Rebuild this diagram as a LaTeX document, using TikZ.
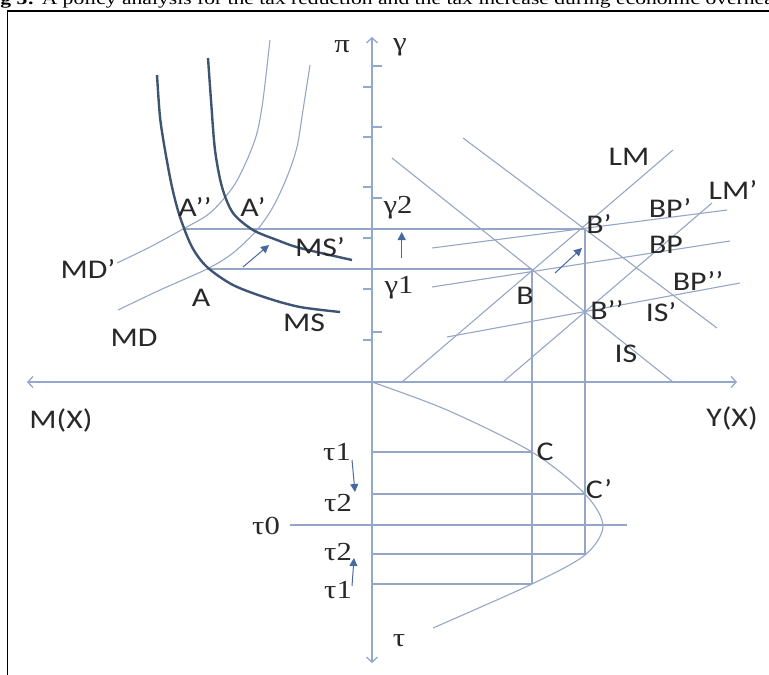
\documentclass[tikz,border=0pt]{standalone}
\usepackage{fontspec}
\setmainfont{Liberation Serif}
\newfontfamily\labfont{Carlito}
\newfontfamily\grkfont{Liberation Serif}
\usetikzlibrary{arrows.meta}
\definecolor{axiscol}{RGB}{146,168,204}
\definecolor{linecol}{RGB}{150,166,198}
\definecolor{thickcol}{RGB}{62,84,115}
\definecolor{arrcol}{RGB}{72,104,160}
\definecolor{txtcol}{RGB}{40,40,40}
\newcommand\hs[1]{\scalebox{1.18}[1]{#1}}
\newcommand\hc[1]{\scalebox{1.27}[1]{#1}}
\begin{document}
\begin{tikzpicture}[x=1pt,y=-1pt,
  axisline/.style={draw=axiscol, line width=1.3pt},
  axisarrow/.style={axisline, {Straight Barb[length=5pt,width=11pt]}-{Straight Barb[length=5pt,width=11pt]}},
  thinline/.style={draw=linecol, line width=1.1pt},
  thickcurve/.style={draw=thickcol, line width=2.4pt},
  shiftarrow/.style={draw=arrcol, line width=1pt, -{Triangle[length=8pt,width=8pt]}},
  lab/.style={font=\labfont\fontsize{27}{31}\selectfont, text=txtcol, inner sep=0pt},
  glab/.style={font=\grkfont\fontsize{26}{30}\selectfont, text=txtcol, inner sep=0pt},
]
\useasboundingbox (0,0) rectangle (769,675);
\clip (0,0) rectangle (769,675);

% caption (cut at top)
\node[anchor=base west, inner sep=0pt, font=\fontsize{17}{19}\selectfont] (cap) at (-19,4)
  {\hc{\textbf{Fig 3:} A policy analysis for the tax reduction and the tax increase during economic overheating}};
% frame
\draw[line width=1.6pt] (7.5,11) rectangle (800,700);

% key points
\coordinate (O) at (372,382);
\coordinate (Ytop) at (372,37);
\coordinate (Ybot) at (372,663);
\coordinate (Xl) at (27,382);
\coordinate (Xr) at (737,382);
\coordinate (A) at (207,269);
\coordinate (App) at (183,229);
\coordinate (Ap) at (255,229);
\coordinate (B) at (532,269);
\coordinate (Bp) at (585,229);
\coordinate (Bpp) at (585,311);
\coordinate (C) at (532,452);
\coordinate (Cp) at (585,494);

% axes
\draw[axisarrow] (Ytop) -- (Ybot);
\draw[axisarrow] (Xl) -- (Xr);
\foreach \ty in {87,137,187,238,289,340} \draw[axisline] (363,\ty) -- (372,\ty);
\foreach \ty in {66,127,198,332} \draw[axisline] (372,\ty) -- (382,\ty);

% MD curves
\draw[thinline] plot[smooth] coordinates {(118,310) (160,290) (207,269) (233,253) (257,230) (273,207) (287,177) (297,147) (303,110) (310,65)};
\draw[thinline] plot[smooth] coordinates {(117,263) (150,247) (183,229) (210,213) (233,187) (247,160) (257,133) (263,100) (270,40)};

% horizontal guide lines
\draw[thinline] (App) -- (Bp);
\draw[thinline] (A) -- (B);

% MS curves
\draw[thickcurve] plot[smooth] coordinates {(157,75) (160,117) (165,150) (172,187) (180,217) (192,247) (207,267) (233,285) (267,298) (300,307) (340,312)};
\draw[thickcurve] plot[smooth] coordinates {(208,58) (211,100) (215,150) (222,187) (233,213) (253,230) (277,240) (300,248) (352,260)};

% IS, LM, BP lines
\coordinate (ISa) at (392,158); \coordinate (ISb) at (673,382);
\coordinate (ISpa) at (463,138); \coordinate (ISpb) at (717,328);
\coordinate (LMa) at (402,382); \coordinate (LMb) at (673,150);
\coordinate (LMpa) at (503,382); \coordinate (LMpb) at (712,203);
\coordinate (BPpa) at (432,248); \coordinate (BPpb) at (727,210);
\coordinate (BPa) at (432,287); \coordinate (BPb) at (730,241);
\coordinate (BPppa) at (447,337); \coordinate (BPppb) at (740,283);
\draw[thinline] (ISa) -- (ISb);
\draw[thinline] (ISpa) -- (ISpb);
\draw[thinline] (LMa) -- (LMb);
\draw[thinline] (LMpa) -- (LMpb);
\draw[thinline] (BPpa) -- (BPpb);
\draw[thinline] (BPa) -- (BPb);
\draw[thinline] (BPppa) -- (BPppb);

% lower quadrant
\coordinate (t1u) at (372,452);
\coordinate (t2u) at (372,494);
\coordinate (t0a) at (290,525); \coordinate (t0b) at (627,525);
\coordinate (t2l) at (372,554); \coordinate (t2lr) at (585,554);
\coordinate (t1l) at (372,584); \coordinate (t1lr) at (532,584);
\draw[thinline] (t1u) -- (C);
\draw[thinline] (t2u) -- (Cp);
\draw[thinline] (t0a) -- (t0b);
\draw[thinline] (t2l) -- (t2lr);
\draw[thinline] (t1l) -- (t1lr);
\draw[thinline] (B) -- (t1lr);
\draw[thinline] (Bp) -- (t2lr);
\draw[thinline] plot[smooth] coordinates {(372,382) (447,410) (532,452) (585,494) (603,526) (585,555) (532,584) (433,628)};

% shift arrows
\coordinate (g1) at (401.7,258); \coordinate (g2) at (401.7,232);
\draw[shiftarrow] (g1) -- (g2);
\coordinate (aa1) at (243,267); \coordinate (aa2) at (269,245);
\draw[shiftarrow] (aa1) -- (aa2);
\coordinate (bb1) at (555,273); \coordinate (bb2) at (582,248);
\draw[shiftarrow] (bb1) -- (bb2);
\coordinate (tt1) at (352,460); \coordinate (tt2) at (355,492);
\draw[shiftarrow] (tt1) -- (tt2);
\coordinate (tu1) at (352,586); \coordinate (tu2) at (354,558);
\draw[shiftarrow] (tu1) -- (tu2);

% labels
\node[lab] (lLM) at (629,157) {\hs{LM}};
\node[lab] (lLMp) at (733,190) {\hs{LM’}};
\node[lab] (lBPp) at (670,208) {\hs{BP’}};
\node[lab] (lBP) at (666,245) {\hs{BP}};
\node[lab] (lBPpp) at (698,281) {\hs{BP’’}};
\node[lab] (lISp) at (661,312) {\hs{IS’}};
\node[lab] (lIS) at (626,354) {\hs{IS}};
\node[lab] (lB) at (525,296) {\hs{B}};
\node[lab] (lBp) at (599,224) {\hs{B’}};
\node[lab] (lBpp) at (607,310) {\hs{B’’}};
\node[lab] (lC) at (545,452) {\hs{C}};
\node[lab] (lCp) at (599,489) {\hs{C’}};
\node[lab] (lApp) at (195,207) {\hs{A’’}};
\node[lab] (lAp) at (253,207) {\hs{A’}};
\node[lab] (lMSp) at (320,247) {\hs{MS’}};
\node[lab] (lMDp) at (88,269) {\hs{MD’}};
\node[lab] (lA) at (201,298) {\hs{A}};
\node[lab] (lMS) at (304,323) {\hs{MS}};
\node[lab] (lMD) at (134,338) {\hs{MD}};
\node[lab] (lMX) at (61,420) {\hs{M(X)}};
\node[lab] (lYX) at (732,418) {\hs{Y(X)}};
\node[glab] (lpi) at (342,47) {\hs{π}};
\node[glab] (lgam) at (400,47) {\hs{γ}};
\node[glab] (lg2) at (398,208) {\hs{γ2}};
\node[glab] (lg1) at (399,288) {\hs{γ1}};
\node[glab] (lt1u) at (337,452) {\hs{τ1}};
\node[glab] (lt2u) at (338,503) {\hs{τ2}};
\node[glab] (lt0) at (266,526) {\hs{τ0}};
\node[glab] (lt2l) at (338,552) {\hs{τ2}};
\node[glab] (lt1l) at (338,590) {\hs{τ1}};
\node[glab] (ltau) at (399,641) {\hs{τ}};
\end{tikzpicture}
\end{document}
